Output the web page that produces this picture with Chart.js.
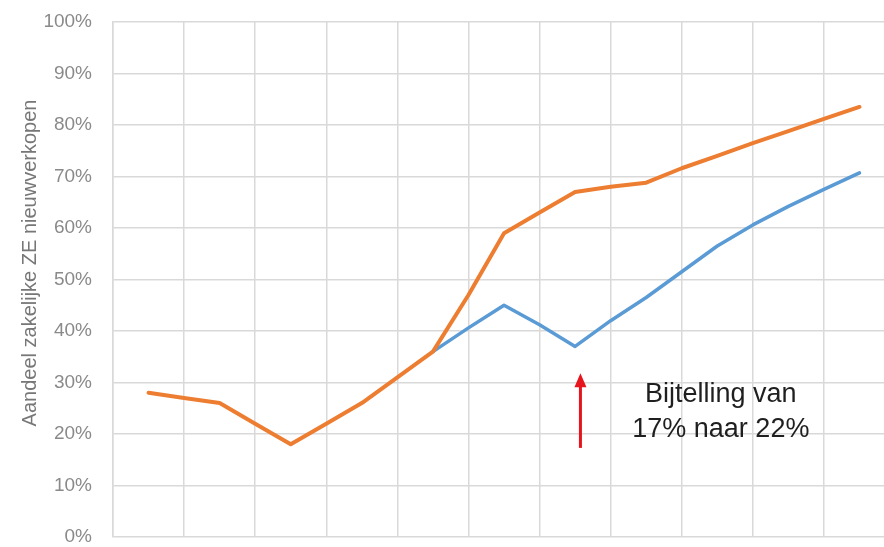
<!DOCTYPE html>
<html>
<head>
<meta charset="utf-8">
<script src="https://cdn.jsdelivr.net/npm/chart.js@4/dist/chart.umd.min.js"></script>
<style>
  html, body { margin: 0; padding: 0; background: #fff; }
  #wrap { width: 884px; height: 547px; }
</style>
</head>
<body>
<div id="wrap"><canvas id="shareChart"></canvas></div>
<script>
// Aandeel zakelijke ZE nieuwverkopen - two scenarios

const periods = [0, 1, 2, 3, 4, 5, 6, 7, 8, 9, 10, 11, 12, 13, 14, 15, 16, 17, 18, 19, 20];
const orangeShare = [28, 27, 26, 22, 18, 22, 26, 31, 36, 47, 59, 63, 67, 68, 68.8, 71.6, 74, 76.5, 78.8, 81.2, 83.5];
const blueShare = [null, null, null, null, null, null, null, null, 36, 40.6, 45, 41.2, 37, 42, 46.5, 51.5, 56.5, 60.6, 64.2, 67.5, 70.7];
const yTicks = [0, 10, 20, 30, 40, 50, 60, 70, 80, 90, 100];
const xGrid = [-1, 1, 3, 5, 7, 9, 11, 13, 15, 17, 19];

const yTitle = 'Aandeel zakelijke ZE nieuwverkopen';
const noteLines = ['Bijtelling van', '17% naar 22%'];

const GRID = '#d9d9d9';
const FONT = '"Liberation Sans", Arial, sans-serif';

const toPoints = arr => periods.map((p, i) => ({ x: p, y: arr[i] }));

// axis title + arrow + note
const extrasPlugin = {
    id: 'extras',
    afterDraw(chart) {
        const ctx = chart.ctx;
        const xs = chart.scales.x, ys = chart.scales.y;
        ctx.save();

        ctx.translate(30, 263);
        ctx.rotate(-Math.PI / 2);
        ctx.font = '20px ' + FONT;
        ctx.fillStyle = '#777777';
        ctx.textAlign = 'center';
        ctx.textBaseline = 'middle';
        ctx.fillText(yTitle, 0, 0);
        ctx.setTransform(1, 0, 0, 1, 0, 0);

        // red arrow under the dip
        const ax = xs.getPixelForValue(12.15);
        const yTip = ys.getPixelForValue(31.8);
        const yEnd = ys.getPixelForValue(17.3);
        ctx.strokeStyle = '#e8141c';
        ctx.fillStyle = '#e8141c';
        ctx.lineWidth = 3;
        ctx.beginPath();
        ctx.moveTo(ax, yEnd);
        ctx.lineTo(ax, yTip + 10);
        ctx.stroke();
        ctx.beginPath();
        ctx.moveTo(ax, yTip);
        ctx.lineTo(ax - 6, yTip + 14);
        ctx.lineTo(ax + 6, yTip + 14);
        ctx.closePath();
        ctx.fill();

        ctx.font = '27px ' + FONT;
        ctx.fillStyle = '#1f1f1f';
        ctx.textAlign = 'center';
        ctx.textBaseline = 'middle';
        const nx = xs.getPixelForValue(16.1);
        ctx.fillText(noteLines[0], nx, ys.getPixelForValue(27.6));
        ctx.fillText(noteLines[1], nx, ys.getPixelForValue(20.8));
        ctx.restore();
    }
};

new Chart(document.getElementById('shareChart'), {
    type: 'line',
    data: {
        datasets: [
            {
                label: 'Oranje',
                data: toPoints(orangeShare),
                borderColor: '#ed7d31',
                borderWidth: 4,
                pointRadius: 0,
                tension: 0,
                borderJoinStyle: 'round',
                borderCapStyle: 'round'
            },
            {
                label: 'Blauw',
                data: toPoints(blueShare),
                borderColor: '#5b9bd5',
                borderWidth: 3.5,
                pointRadius: 0,
                tension: 0,
                spanGaps: false,
                borderJoinStyle: 'round',
                borderCapStyle: 'round'
            }
        ]
    },
    options: {
        responsive: true,
        maintainAspectRatio: false,
        animation: false,
        layout: { padding: { top: 22, bottom: 10, left: 0, right: 0 } },
        plugins: { legend: { display: false }, tooltip: { enabled: false } },
        scales: {
            x: {
                type: 'linear',
                min: -1,
                max: 20.69,
                afterBuildTicks: s => { s.ticks = xGrid.map(v => ({ value: v })); },
                afterFit: s => { s.height = 0; s.paddingLeft = 0; s.paddingRight = 0; },
                ticks: { display: false },
                grid: { color: GRID, lineWidth: 1.5, drawTicks: false },
                border: { display: false }
            },
            y: {
                min: 0,
                max: 100,
                afterBuildTicks: s => { s.ticks = yTicks.map(v => ({ value: v })); },
                afterFit: s => { s.width = 113; s.paddingTop = 0; s.paddingBottom = 0; },
                ticks: {
                    padding: 21,
                    color: '#8a8a8a',
                    font: { family: FONT, size: 19 },
                    callback: v => v + '%'
                },
                grid: { color: GRID, lineWidth: 1.5, drawTicks: false },
                border: { color: GRID, width: 1.5 }
            }
        }
    },
    plugins: [extrasPlugin]
});
</script>
</body>
</html>
